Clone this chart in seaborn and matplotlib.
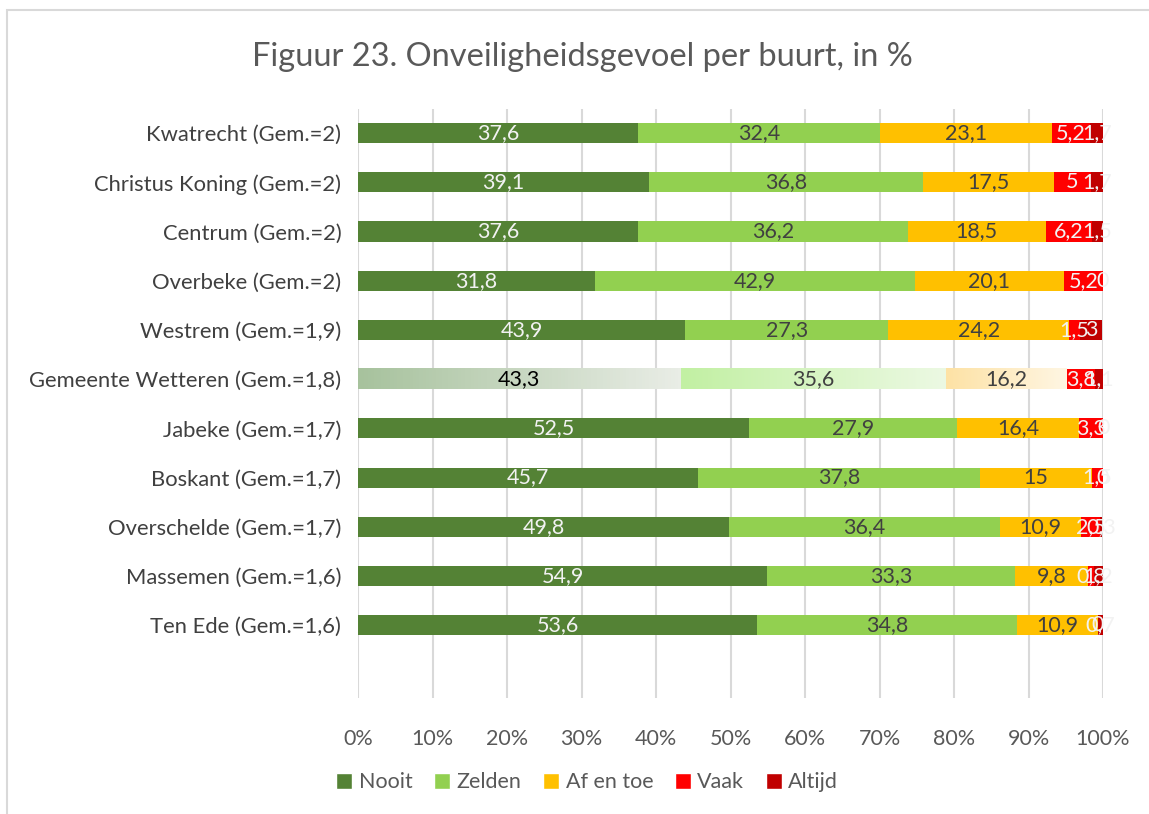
import numpy as np
import pandas as pd
import matplotlib
matplotlib.use("Agg")
import matplotlib.pyplot as plt
import seaborn as sns
from matplotlib.patches import Rectangle, Patch
from matplotlib.colors import LinearSegmentedColormap

buurten = ["Kwatrecht (Gem.=2)", "Christus Koning (Gem.=2)", "Centrum (Gem.=2)",
           "Overbeke (Gem.=2)", "Westrem (Gem.=1,9)", "Gemeente Wetteren (Gem.=1,8)",
           "Jabeke (Gem.=1,7)", "Boskant (Gem.=1,7)", "Overschelde (Gem.=1,7)",
           "Massemen (Gem.=1,6)", "Ten Ede (Gem.=1,6)"]
nooit = [37.6, 39.1, 37.6, 31.8, 43.9, 43.3, 52.5, 45.7, 49.8, 54.9, 53.6]
zelden = [32.4, 36.8, 36.2, 42.9, 27.3, 35.6, 27.9, 37.8, 36.4, 33.3, 34.8]
af_en_toe = [23.1, 17.5, 18.5, 20.1, 24.2, 16.2, 16.4, 15, 10.9, 9.8, 10.9]
vaak = [5.2, 5, 6.2, 5.2, 1.5, 3.8, 3.3, 1.5, 2.5, 0.8, 0]
altijd = [1.7, 1.7, 1.5, 0, 3, 1.1, 0, 0, 0.3, 1.2, 0.7]

series = ["Nooit", "Zelden", "Af en toe", "Vaak", "Altijd"]
colors = ["#548235", "#92D050", "#FFC000", "#FF0000", "#C00000"]
label_colors = ["#F2F2F2", "#404040", "#404040", "#F2F2F2", "#F2F2F2"]
ticks = np.arange(0, 101, 10)
highlight = "Gemeente Wetteren (Gem.=1,8)"

df = pd.DataFrame({"buurt": buurten, "Nooit": nooit, "Zelden": zelden,
                   "Af en toe": af_en_toe, "Vaak": vaak, "Altijd": altijd})
cum = df[series].cumsum(axis=1)

sns.set_theme(style="white")
plt.rcParams["font.family"] = ["Lato", "DejaVu Sans"]

fig = plt.figure(figsize=(11.49, 8.14), dpi=100)
ax = fig.add_axes([0.3116, 0.1425, 0.6484, 0.7235])

# stacked bars: draw cumulative totals from the back to the front
for s, c in reversed(list(zip(series, colors))):
    sns.barplot(x=cum[s], y=df["buurt"], color=c, orient="h", width=0.41,
                saturation=1, linewidth=0, ax=ax, zorder=2)

# highlighted row with gradient fill
hi = buurten.index(highlight)
grads = {"Nooit": ("#A7C29D", "#E9EDE6"),
         "Zelden": ("#C2F0A3", "#ECF9E3"),
         "Af en toe": ("#FDE2A5", "#FFF6E3")}
for s in ["Nooit", "Zelden", "Af en toe"]:
    x1 = cum[s][hi]
    x0 = x1 - df[s][hi]
    cmap = LinearSegmentedColormap.from_list(s, grads[s])
    ax.imshow(np.linspace(0, 1, 100).reshape(1, -1), cmap=cmap, aspect="auto",
              extent=(x0, x1, hi + 0.205, hi - 0.205), zorder=3)

# data labels
for i, b in enumerate(buurten):
    for j, s in enumerate(series):
        v = df[s][i]
        x = cum[s][i] - v / 2
        txt = f"{v:g}".replace(".", ",")
        col = label_colors[j]
        if b == highlight and j == 0:
            col = "#000000"
        ax.text(x, i, txt, ha="center", va="center", fontsize=15.5, color=col, zorder=4)

ax.set_xlim(0, 100)
ax.set_ylim(11.48, -0.49)
ax.set_xticks(ticks)
ax.set_xticklabels([f"{t}%" for t in ticks], fontsize=15.5, color="#595959")
ax.tick_params(axis="x", pad=22, length=0)
ax.tick_params(axis="y", labelsize=15.8, labelcolor="#404040", length=0, pad=12)
ax.set_xlabel("")
ax.set_ylabel("")
ax.grid(axis="x", color="#D9D9D9", linewidth=1.5, zorder=0)
ax.set_axisbelow(True)
for sp in ax.spines.values():
    sp.set_visible(False)

fig.text(0.507, 0.93, "Figuur 23. Onveiligheidsgevoel per buurt, in %", ha="center",
         va="center", fontsize=23.5, color="#595959", fontweight="normal")

handles = [Patch(facecolor=c, label=s) for s, c in zip(series, colors)]
fig.legend(handles=handles, loc="center", bbox_to_anchor=(0.511, 0.039), ncol=5,
           frameon=False, fontsize=15.5, handlelength=0.75, handleheight=0.75,
           handletextpad=0.3, columnspacing=1.0, labelcolor="#595959")

# chart border
fig.patches.append(Rectangle((7 / 1149, -0.1), 1.2, 1.1 - 10 / 814, transform=fig.transFigure,
                             fill=False, edgecolor="#D9D9D9", linewidth=1.5))

fig.savefig("out.png", dpi=100)
